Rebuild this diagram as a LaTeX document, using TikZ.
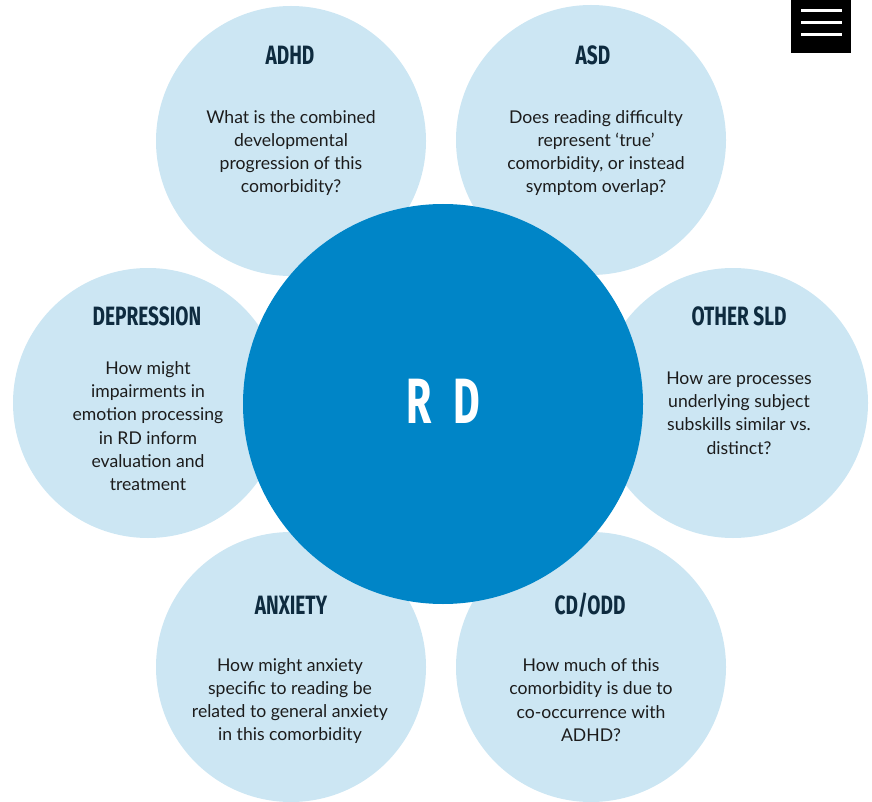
\documentclass[tikz,border=0pt]{standalone}
\usepackage{fontspec}
\setmainfont{Lato}
\newfontfamily\headfont[FakeStretch=0.72]{Fira Sans}
\newfontfamily\rdfont[FakeStretch=0.64]{Fira Sans}
\definecolor{lightblue}{HTML}{CCE6F3}
\definecolor{darkblue}{HTML}{0085C7}
\definecolor{navy}{HTML}{0E2B3F}
\definecolor{bodytext}{HTML}{1C1C1C}
\tikzset{
  outer/.style={circle, fill=lightblue, minimum size=270pt, inner sep=0pt},
  hub/.style={circle, fill=darkblue, minimum size=400pt, inner sep=0pt},
  heading/.style={font=\headfont\bfseries\fontsize{26.5}{30}\selectfont, text=navy, inner sep=0pt},
  question/.style={font=\fontsize{17.6}{23.3}\selectfont, text=bodytext, align=center, inner sep=0pt},
  menubar/.style={draw=white, line width=3.5pt}
}
\begin{document}
\begin{tikzpicture}[x=1pt,y=-1pt]
\useasboundingbox (0,0) rectangle (872,802);
% outer circles
\node[outer] (adhdc) at (291,141) {};
\node[outer] (asdc) at (591,140) {};
\node[outer] (depc) at (148,403) {};
\node[outer] (sldc) at (733,403) {};
\node[outer] (anxc) at (291,667) {};
\node[outer] (cdc) at (591,667) {};
% hub
\node[hub] (rd) at (443,404) {};
\node[font=\rdfont\bfseries\fontsize{64}{70}\selectfont, text=white, inner sep=0pt] (rdt) at (443,401) {R\hspace{12pt} D};
% headings
\node[heading] (adhdh) at (290,55) {ADHD};
\node[heading] (asdh) at (593,55) {ASD};
\node[heading] (deph) at (147,316) {DEPRESSION};
\node[heading] (sldh) at (739,316) {OTHER SLD};
\node[heading] (anxh) at (291,605) {ANXIETY};
\node[heading] (cdh) at (590,605) {CD/ODD};
% questions
\node[question] (adhdq) at (291,153) {What is the combined\\developmental\\progression of this\\comorbidity?};
\node[question] (asdq) at (596,153) {Does reading difficulty\\represent ‘true’\\comorbidity, or instead\\symptom overlap?};
\node[question] (depq) at (148,426) {How might\\impairments in\\emotion processing\\in RD inform\\evaluation and\\treatment};
\node[question] (sldq) at (739,413) {How are processes\\underlying subject\\subskills similar vs.\\distinct?};
\node[question] (anxq) at (290,701) {How might anxiety\\specific to reading be\\related to general anxiety\\in this comorbidity};
\node[question] (cdq) at (591,700) {How much of this\\comorbidity is due to\\co-occurrence with\\ADHD?};
% menu icon
\node[fill=black, minimum width=60pt, minimum height=53pt, inner sep=0pt, anchor=north west] (menu) at (791,0) {};
\draw[menubar] (801,10.7) -- (842,10.7);
\draw[menubar] (801,22.3) -- (842,22.3);
\draw[menubar] (801,34.3) -- (842,34.3);
\end{tikzpicture}
\end{document}
